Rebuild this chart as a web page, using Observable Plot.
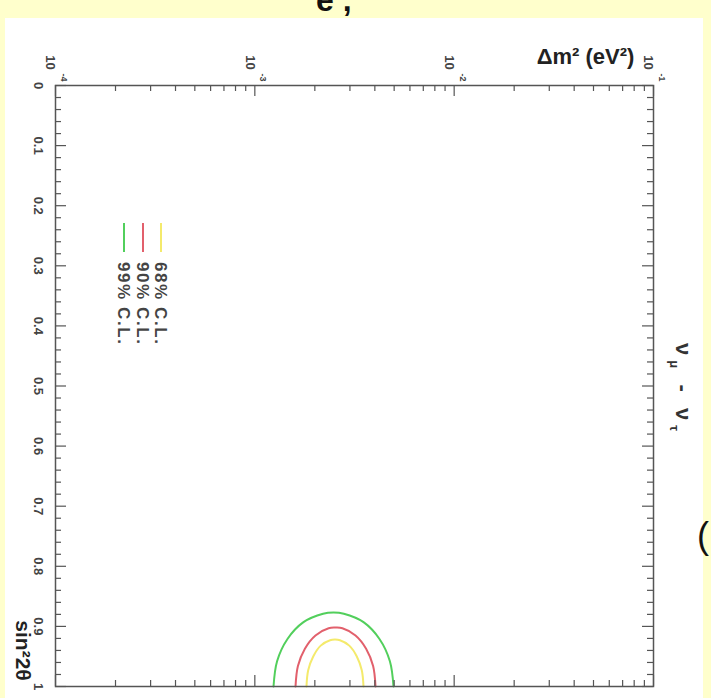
<!DOCTYPE html>
<html><head><meta charset="utf-8">
<script src="https://cdn.jsdelivr.net/npm/d3@7"></script>
<script src="https://cdn.jsdelivr.net/npm/@observablehq/plot@0.6"></script>
<style>
html,body{margin:0;padding:0;background:#ffffcc;}
#wrap{position:relative;width:711px;height:698px;overflow:hidden;background:#ffffcc;}
#panel{position:absolute;left:5px;top:18px;width:698px;height:680px;background:#fff;}
#chart{position:absolute;left:0;top:0;}
</style></head><body>
<div id="wrap"><div id="panel"></div><div id="chart"></div></div>
<script>
// ---- data ----
const sinMajor = [0,0.1,0.2,0.3,0.4,0.5,0.6,0.7,0.8,0.9,1];
const sinTickLabels = ["0","0.1","0.2","0.3","0.4","0.5","0.6","0.7","0.8","0.9","1"];
const dmDecades = [1e-4,1e-3,1e-2,1e-1];
const dmDecadeExp = ["-4","-3","-2","-1"];

// 99% C.L. contour (Δm², sin²2θ)
const cl99_dm = [1.241e-3,1.293e-3,1.458e-3,1.754e-3,2.200e-3,2.481e-3,2.797e-3,3.509e-3,4.220e-3,4.759e-3,4.962e-3];
const cl99_s  = [1.0,0.958,0.921,0.893,0.879,0.877,0.879,0.893,0.921,0.958,1.0];
// 90% C.L.
const cl90_dm = [1.600e-3,1.645e-3,1.783e-3,2.015e-3,2.345e-3,2.539e-3,2.750e-3,3.199e-3,3.616e-3,3.921e-3,4.031e-3];
const cl90_s  = [1.0,0.966,0.937,0.915,0.903,0.902,0.903,0.915,0.937,0.966,1.0];
// 68% C.L.
const cl68_dm = [1.816e-3,1.852e-3,1.963e-3,2.141e-3,2.385e-3,2.524e-3,2.673e-3,2.977e-3,3.248e-3,3.440e-3,3.509e-3];
const cl68_s  = [1.0,0.973,0.950,0.932,0.923,0.922,0.923,0.932,0.950,0.973,1.0];

const legendLabels = ["99% C.L.","90% C.L.","68% C.L."];
const legendColors = ["#52cf5c","#e2606c","#f4ea6c"];

const xTitle = "Δm² (eV²)";
const yTitle = "sin²2θ";

// ---- layout ----
const W=711, H=698, mL=55, mR=58, mT=85, mB=12;
const fw = W-mL-mR, fh = H-mT-mB;
const font = "'Liberation Sans', Arial, Helvetica, sans-serif";

const sinMinor = d3.range(0, 1.0001, 0.02).filter(v => Math.abs(v*10 - Math.round(v*10)) > 1e-6);
const dmMinor = [];
dmDecades.slice(0,3).forEach(d => { for (let k=2;k<=9;k++) dmMinor.push(d*k); });

const toRows = (xs, ys) => xs.map((x,i)=>({dm:x, s:ys[i]}));
const curves = [toRows(cl99_dm, cl99_s), toRows(cl90_dm, cl90_s), toRows(cl68_dm, cl68_s)];

const axisCol = "#555";
const chart = Plot.plot({
  width:W, height:H, marginLeft:mL, marginRight:mR, marginTop:mT, marginBottom:mB,
  style:{background:"transparent", fontFamily:font, overflow:"visible"},
  x:{type:"log", domain:[1e-4,1e-1], axis:null},
  y:{domain:[0,1], reverse:true, axis:null},
  marks:[
    ...curves.map((c,i)=>Plot.line(c,{x:"dm", y:"s", stroke:legendColors[i], strokeWidth:2, curve:"catmull-rom"})),
    Plot.frame({stroke:axisCol, strokeWidth:1.5}),
    Plot.tickY(sinMajor,{y:d=>d, insetRight:fw-11, stroke:axisCol, strokeWidth:1.2}),
    Plot.tickY(sinMinor,{y:d=>d, insetRight:fw-6, stroke:axisCol, strokeWidth:1.2}),
    Plot.tickY(sinMajor,{y:d=>d, insetLeft:fw-11, stroke:axisCol, strokeWidth:1.2}),
    Plot.tickY(sinMinor,{y:d=>d, insetLeft:fw-6, stroke:axisCol, strokeWidth:1.2}),
    Plot.tickX(dmDecades,{x:d=>d, insetBottom:fh-11, stroke:axisCol, strokeWidth:1.2}),
    Plot.tickX(dmMinor,{x:d=>d, insetBottom:fh-6, stroke:axisCol, strokeWidth:1.2}),
    Plot.tickX(dmDecades,{x:d=>d, insetTop:fh-11, stroke:axisCol, strokeWidth:1.2}),
    Plot.tickX(dmMinor,{x:d=>d, insetTop:fh-6, stroke:axisCol, strokeWidth:1.2}),
    Plot.text(sinMajor,{y:d=>d, text:(d,i)=>sinTickLabels[i], frameAnchor:"left", textAnchor:"middle", dx:-17, rotate:90, fontSize:13, fontWeight:"bold", fill:"#444"}),
    Plot.text(dmDecades,{x:d=>d, text:()=>"10", frameAnchor:"top", textAnchor:"middle", dy:-23, rotate:90, fontSize:13, fontWeight:"bold", fill:"#444"}),
    Plot.text(dmDecades,{x:d=>d, text:(d,i)=>dmDecadeExp[i], frameAnchor:"top", textAnchor:"middle", dx:12, dy:-8, rotate:90, fontSize:9, fontWeight:"bold", fill:"#444"}),
    Plot.text([xTitle],{frameAnchor:"top-right", textAnchor:"middle", dx:-68, dy:-37, fontSize:22, fontWeight:"bold", fill:"#222"}),
    Plot.text([yTitle],{frameAnchor:"bottom-left", textAnchor:"middle", dx:-40, dy:-36, rotate:90, fontSize:21, fontWeight:"bold", fill:"#222"})
  ]
});
document.getElementById("chart").appendChild(chart);

// legend & annotations
const svg = d3.select(chart);
const legX = [124,143,161];
legendLabels.forEach((lab,i)=>{
  svg.append("line").attr("x1",legX[i]).attr("x2",legX[i]).attr("y1",223).attr("y2",252)
    .attr("stroke",legendColors[i]).attr("stroke-width",2);
  svg.append("text").attr("transform",`translate(${legX[i]},262) rotate(90)`)
    .attr("text-anchor","start").attr("dy","0.35em").attr("font-size",17).attr("font-weight","bold")
    .attr("fill","#444").attr("font-family",font)
    .attr("textLength",82).attr("lengthAdjust","spacing").text(lab);
});
const nu = svg.append("text").attr("transform","translate(684,343) rotate(90)")
  .attr("text-anchor","start").attr("dy","0.35em").attr("font-size",22).attr("font-weight","bold")
  .attr("fill","#333").attr("font-family",font).attr("textLength",88).attr("lengthAdjust","spacing");
nu.append("tspan").text("ν");
nu.append("tspan").attr("font-size",13).attr("dy",6).text("μ");
nu.append("tspan").attr("dy",-6).text(" - ν");
nu.append("tspan").attr("font-size",13).attr("dy",6).text("τ");
svg.append("text").attr("x",697).attr("y",548).attr("text-anchor","start").attr("font-size",36).attr("fill","#111").attr("font-family",font).text("(");
svg.append("text").attr("x",316).attr("y",11).attr("text-anchor","start").attr("font-size",32).attr("font-weight","bold").attr("fill","#111").attr("font-family",font).text("e ,");
</script>
</body></html>
